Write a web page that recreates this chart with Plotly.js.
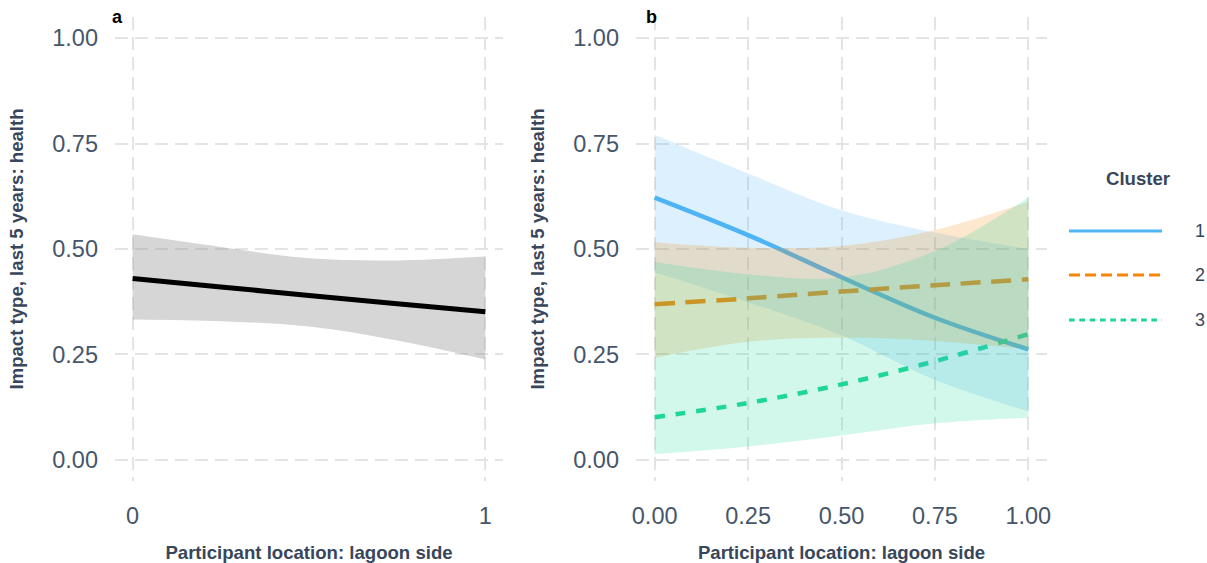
<!DOCTYPE html>
<html>
<head>
<meta charset="utf-8">
<script src="https://cdn.plot.ly/plotly-3.0.1.min.js"></script>
<style>
  html, body { margin: 0; padding: 0; background: #ffffff; }
  #chart { width: 1207px; height: 563px; }
</style>
</head>
<body>
<div id="chart"></div>
<script>
// Predicted probability of a health impact (last 5 years) by lagoon-side location
// a: pooled model, b: by cluster (with 95% confidence bands)

const locX = [0, 0.25, 0.5, 0.75, 1];

// Panel a: pooled
const pooledFit   = [0.430, 0.410, 0.390, 0.370, 0.351];
const pooledUpper = [0.535, 0.505, 0.478, 0.473, 0.482];
const pooledLower = [0.333, 0.329, 0.316, 0.283, 0.238];

// Panel b: clusters
const clusterNames = ['1', '2', '3'];
const clusterFit = [
  [0.622, 0.533, 0.433, 0.337, 0.262],
  [0.369, 0.383, 0.399, 0.414, 0.428],
  [0.101, 0.135, 0.179, 0.234, 0.298]
];
const clusterUpper = [
  [0.771, 0.679, 0.592, 0.539, 0.500],
  [0.516, 0.503, 0.507, 0.545, 0.612],
  [0.469, 0.440, 0.432, 0.495, 0.622]
];
const clusterLower = [
  [0.445, 0.374, 0.295, 0.190, 0.115],
  [0.242, 0.280, 0.290, 0.282, 0.262],
  [0.014, 0.032, 0.058, 0.087, 0.100]
];

const yTicks = [0, 0.25, 0.5, 0.75, 1];
const yTickText = ['0.00', '0.25', '0.50', '0.75', '1.00'];
const xTicksA = [0, 1];
const xTickTextA = ['0', '1'];
const xTicksB = [0, 0.25, 0.5, 0.75, 1];
const xTickTextB = ['0.00', '0.25', '0.50', '0.75', '1.00'];

const lineColors = ['#4fb5f5', '#f5870a', '#1ed699'];
const bandColors = ['rgba(79,181,245,0.2)', 'rgba(245,135,10,0.2)', 'rgba(30,214,153,0.2)'];
const lineDash = ['solid', '20px,10.7px', '10px,10.7px'];
const legendDash = ['solid', '11px,5px', '5.7px,4.6px'];

const W = 1207, H = 563;
const px = v => v / W;
const py = v => 1 - v / H;

const tickFont = { family: 'Liberation Sans, Arial, sans-serif', size: 23.5, color: '#46566a' };
const titleFont = { family: 'Liberation Sans, Arial, sans-serif', size: 18.6, color: '#37465a', weight: 'bold' };

const traces = [];

// a: band then fitted line
traces.push({
  x: locX, y: pooledLower, xaxis: 'x', yaxis: 'y', type: 'scatter', mode: 'lines',
  line: { width: 0, shape: 'spline', color: 'rgba(0,0,0,0)' }, hoverinfo: 'skip', showlegend: false
});
traces.push({
  x: locX, y: pooledUpper, xaxis: 'x', yaxis: 'y', type: 'scatter', mode: 'lines',
  fill: 'tonexty', fillcolor: 'rgba(153,153,153,0.4)',
  line: { width: 0, shape: 'spline', color: 'rgba(0,0,0,0)' }, hoverinfo: 'skip', showlegend: false
});
traces.push({
  x: locX, y: pooledFit, xaxis: 'x', yaxis: 'y', type: 'scatter', mode: 'lines',
  line: { width: 5, color: '#000000', shape: 'spline' }, showlegend: false
});

// b: fitted lines first, confidence bands drawn over them
clusterNames.forEach((name, i) => {
  traces.push({
    x: locX, y: clusterFit[i], xaxis: 'x2', yaxis: 'y2', type: 'scatter', mode: 'lines',
    name: name, line: { width: 4.5, color: lineColors[i], dash: lineDash[i], shape: 'spline' },
    showlegend: false
  });
});
clusterNames.forEach((name, i) => {
  traces.push({
    x: locX, y: clusterLower[i], xaxis: 'x2', yaxis: 'y2', type: 'scatter', mode: 'lines',
    line: { width: 0, shape: 'spline', color: 'rgba(0,0,0,0)' }, hoverinfo: 'skip', showlegend: false
  });
  traces.push({
    x: locX, y: clusterUpper[i], xaxis: 'x2', yaxis: 'y2', type: 'scatter', mode: 'lines',
    fill: 'tonexty', fillcolor: bandColors[i],
    line: { width: 0, shape: 'spline', color: 'rgba(0,0,0,0)' }, hoverinfo: 'skip', showlegend: false
  });
});

const gridStyle = {
  showgrid: true, gridcolor: '#e4e4e4', gridwidth: 2, griddash: '13px,7px',
  zeroline: false, showline: false, ticks: '', tickfont: tickFont
};

const yDomain = [py(481), py(17)];

const layout = {
  width: W, height: H,
  margin: { l: 0, r: 0, t: 0, b: 0 },
  paper_bgcolor: '#ffffff', plot_bgcolor: '#ffffff',
  showlegend: false,
  xaxis: Object.assign({}, gridStyle, {
    domain: [px(115), px(503)], range: [-0.05, 1.05], anchor: 'y',
    tickvals: xTicksA, ticktext: xTickTextA, ticklabelstandoff: 18,
    title: { text: 'Participant location: lagoon side', font: titleFont, standoff: 20 }
  }),
  yaxis: Object.assign({}, gridStyle, {
    domain: yDomain, range: [-0.05, 1.05], anchor: 'x',
    tickvals: yTicks, ticktext: yTickText, ticklabelstandoff: 16,
    title: { text: 'Impact type, last 5 years: health', font: titleFont, standoff: 23 }
  }),
  xaxis2: Object.assign({}, gridStyle, {
    domain: [px(636), px(1047)], range: [-0.05, 1.05], anchor: 'y2',
    tickvals: xTicksB, ticktext: xTickTextB, ticklabelstandoff: 18,
    title: { text: 'Participant location: lagoon side', font: titleFont, standoff: 20 }
  }),
  yaxis2: Object.assign({}, gridStyle, {
    domain: yDomain, range: [-0.05, 1.05], anchor: 'x2',
    tickvals: yTicks, ticktext: yTickText, ticklabelstandoff: 16,
    title: { text: 'Impact type, last 5 years: health', font: titleFont, standoff: 23 }
  }),
  annotations: [
    { text: 'a', xref: 'paper', yref: 'paper', x: px(117), y: py(17), xanchor: 'center', yanchor: 'middle',
      showarrow: false, font: { family: 'Liberation Sans, Arial, sans-serif', size: 18, color: '#000000', weight: 'bold' } },
    { text: 'b', xref: 'paper', yref: 'paper', x: px(651), y: py(17), xanchor: 'center', yanchor: 'middle',
      showarrow: false, font: { family: 'Liberation Sans, Arial, sans-serif', size: 18, color: '#000000', weight: 'bold' } },
    { text: 'Cluster', xref: 'paper', yref: 'paper', x: px(1138), y: py(178), xanchor: 'center', yanchor: 'middle',
      showarrow: false, font: titleFont }
  ],
  shapes: []
};

// Legend keys for the clusters
const legendY = [231, 275, 320];
clusterNames.forEach((name, i) => {
  layout.shapes.push({
    type: 'line', xref: 'paper', yref: 'paper',
    x0: px(1069), x1: px(1162), y0: py(legendY[i]), y1: py(legendY[i]),
    line: { color: lineColors[i], width: 3, dash: legendDash[i] }
  });
  layout.annotations.push({
    text: name, xref: 'paper', yref: 'paper', x: px(1200), y: py(legendY[i]),
    xanchor: 'center', yanchor: 'middle', showarrow: false,
    font: { family: 'Liberation Sans, Arial, sans-serif', size: 18, color: '#37465a' }
  });
});

Plotly.newPlot('chart', traces, layout, { staticPlot: true, displayModeBar: false });
</script>
</body>
</html>
